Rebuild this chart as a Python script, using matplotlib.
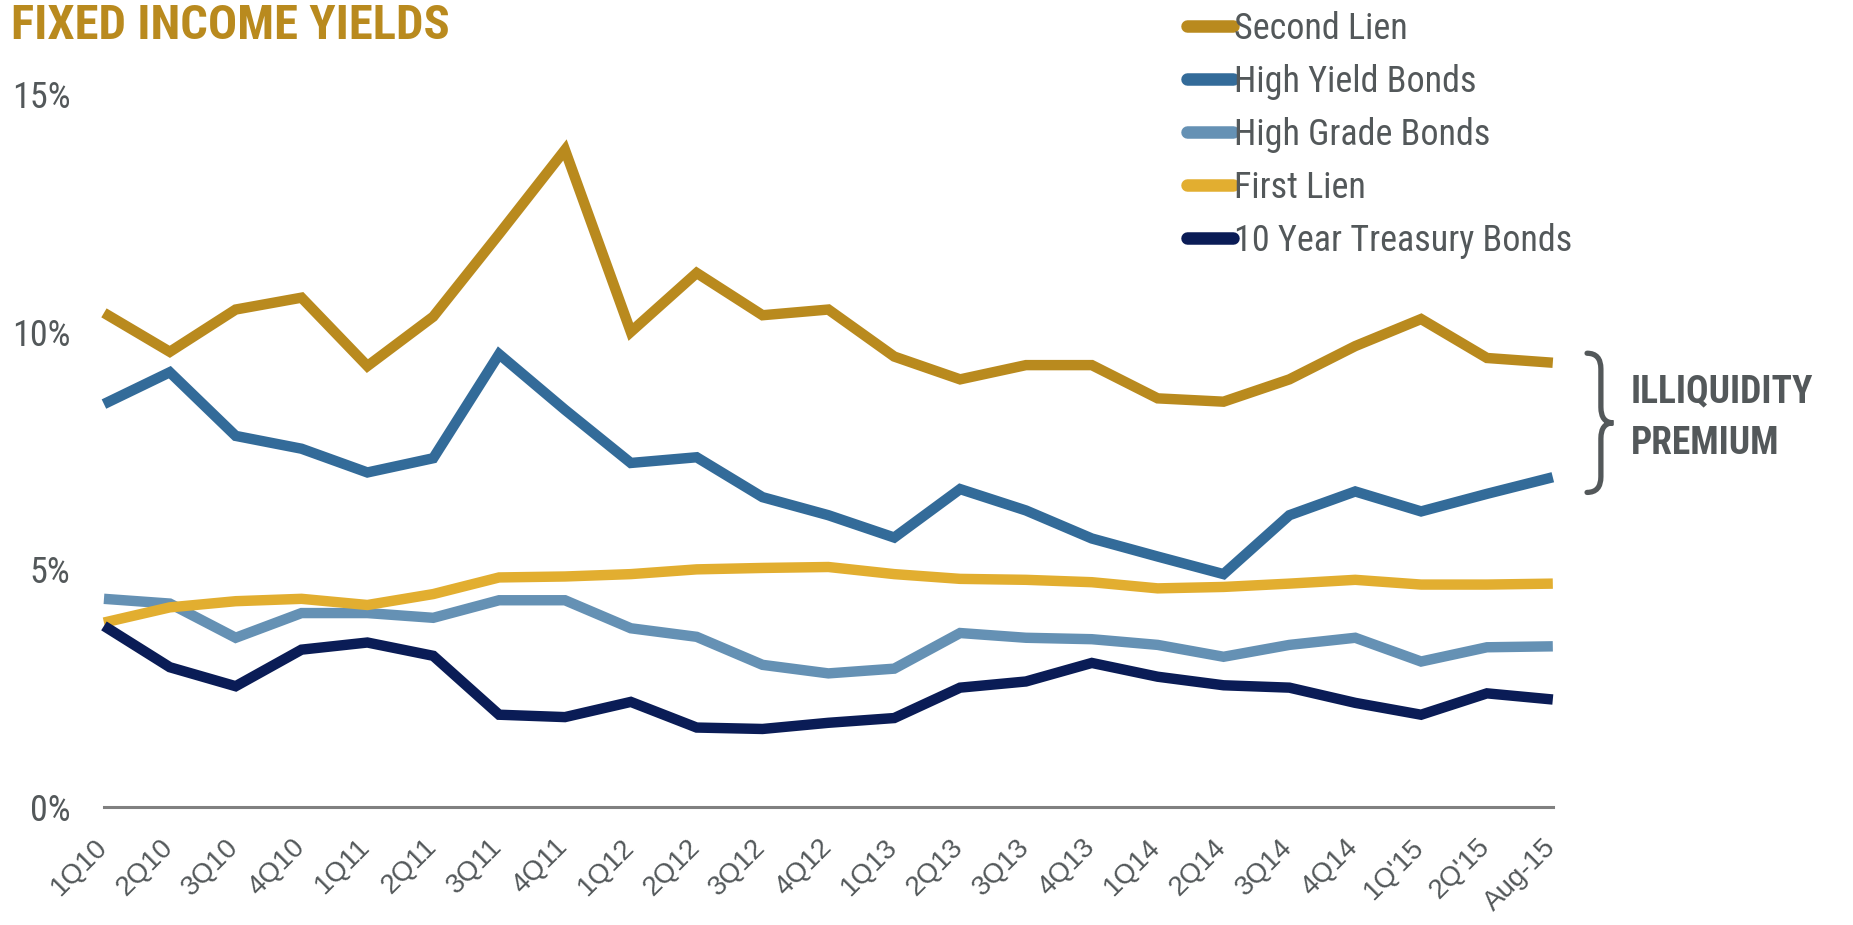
import matplotlib
matplotlib.use("Agg")
import matplotlib.pyplot as plt
import matplotlib.transforms as mtransforms
from matplotlib.path import Path
from matplotlib.patches import PathPatch

# data (yield in %)
quarters = ["1Q10", "2Q10", "3Q10", "4Q10", "1Q11", "2Q11", "3Q11", "4Q11",
            "1Q12", "2Q12", "3Q12", "4Q12", "1Q13", "2Q13", "3Q13", "4Q13",
            "1Q14", "2Q14", "3Q14", "4Q14", "1Q'15", "2Q'15", "Aug-15"]
second_lien = [10.40, 9.58, 10.47, 10.72, 9.28, 10.32, 12.06, 13.83, 10.00, 11.24, 10.35, 10.47,
               9.48, 9.00, 9.30, 9.30, 8.60, 8.53, 9.00, 9.70, 10.27, 9.45, 9.35]
high_yield = [8.48, 9.15, 7.81, 7.54, 7.04, 7.34, 9.53, 8.36, 7.24, 7.36, 6.52, 6.14,
              5.67, 6.69, 6.24, 5.65, 5.27, 4.90, 6.14, 6.64, 6.22, 6.59, 6.94]
high_grade = [4.38, 4.28, 3.56, 4.08, 4.08, 3.98, 4.35, 4.35, 3.76, 3.58, 2.99, 2.81,
              2.91, 3.66, 3.56, 3.53, 3.41, 3.16, 3.41, 3.56, 3.06, 3.36, 3.38]
first_lien = [3.88, 4.20, 4.33, 4.38, 4.25, 4.48, 4.83, 4.85, 4.90, 5.00, 5.03, 5.05,
              4.90, 4.80, 4.78, 4.73, 4.60, 4.63, 4.70, 4.78, 4.68, 4.68, 4.70]
treasury = [3.81, 2.94, 2.54, 3.31, 3.46, 3.18, 1.94, 1.89, 2.21, 1.67, 1.64, 1.77,
            1.87, 2.51, 2.64, 3.03, 2.74, 2.56, 2.51, 2.19, 1.94, 2.39, 2.26]

series_names = ["Second Lien", "High Yield Bonds", "High Grade Bonds",
                "First Lien", "10 Year Treasury Bonds"]
series_colors = ["#B98A1E", "#336B99", "#6591B4", "#E2AE30", "#0A1C56"]

plt.rcParams["font.family"] = ["Roboto Condensed", "DejaVu Sans"]

grey = "#53585A"

fig = plt.figure(figsize=(18.53, 9.25), dpi=100)
ax = fig.add_axes([0.0561, 0.1277, 0.838 - 0.0561, 0.898 - 0.1277])

x = list(range(len(quarters)))
all_series = [second_lien, high_yield, high_grade, first_lien, treasury]
for vals, name, col in zip(all_series, series_names, series_colors):
    ax.plot(x, vals, color=col, lw=7.5, label=name, solid_joinstyle="miter",
            solid_capstyle="butt", clip_on=False)

ax.set_xlim(0, len(quarters) - 1)
ax.set_ylim(0, 15)
ax.set_yticks([0, 5, 10, 15])
ax.set_yticklabels(["0%", "5%", "10%", "15%"])
ax.set_xticks(x)
ax.set_xticklabels(quarters)

for s in ["top", "right", "left"]:
    ax.spines[s].set_visible(False)
ax.spines["bottom"].set_color("#808080")
ax.spines["bottom"].set_linewidth(2.2)
ax.tick_params(axis="both", length=0, colors=grey, labelsize=26)
ax.tick_params(axis="y", pad=24)
ax.tick_params(axis="x", labelsize=20, pad=19.5)

# x labels: 45 degrees, text ends just right of the tick
offset = mtransforms.ScaledTranslation(-0.1, 0, fig.dpi_scale_trans)
for lab in ax.get_xticklabels():
    lab.set_family(["Liberation Sans", "DejaVu Sans"])
    lab.set_rotation(45)
    lab.set_ha("right")
    lab.set_va("top")
    lab.set_rotation_mode("anchor")
    lab.set_transform(lab.get_transform() + offset)

fig.text(0.006, 0.9715, "FIXED INCOME YIELDS", color="#B98A1E", fontsize=35,
         fontweight="bold", va="center", ha="left")

leg = fig.legend(loc="upper left", bbox_to_anchor=(0.633, 1.004), frameon=False,
                 fontsize=26, handlelength=1.25, handletextpad=0.05, labelspacing=0.47,
                 borderaxespad=0)
for t in leg.get_texts():
    t.set_color(grey)
for h in leg.get_lines():
    h.set_solid_capstyle("round")
    h.set_linewidth(9)

# brace marking the gap between second lien and high yield
xl, xm, xt = 22.52, 22.73, 22.92
ytop, ybot = 9.55, 6.62
ymid = (ytop + ybot) / 2
r = 0.33
verts = [(xl, ytop), (xm, ytop), (xm, ytop - r),
         (xm, ymid + r), (xm, ymid), (xt, ymid),
         (xm, ymid), (xm, ymid - r),
         (xm, ybot + r), (xm, ybot), (xl, ybot)]
codes = [Path.MOVETO, Path.CURVE3, Path.CURVE3,
         Path.LINETO, Path.CURVE3, Path.CURVE3,
         Path.CURVE3, Path.CURVE3,
         Path.LINETO, Path.CURVE3, Path.CURVE3]
ax.add_patch(PathPatch(Path(verts, codes), fill=False, edgecolor=grey, lw=3.8,
                       capstyle="round", clip_on=False))

ax.text(23.18, 8.73, "ILLIQUIDITY", color=grey, fontsize=27, fontweight="bold",
        va="center", ha="left", clip_on=False)
ax.text(23.18, 7.66, "PREMIUM", color=grey, fontsize=27, fontweight="bold",
        va="center", ha="left", clip_on=False)

fig.savefig("out.png", dpi=100)
